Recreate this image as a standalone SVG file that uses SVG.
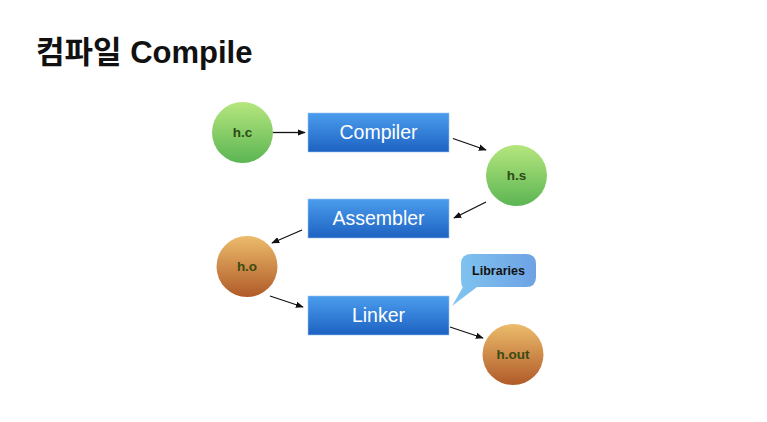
<svg xmlns="http://www.w3.org/2000/svg" width="767" height="422" viewBox="0 0 767 422">
<style>
.title{font-family:"Liberation Sans","Noto Sans CJK KR",sans-serif;font-weight:bold;font-size:31px;fill:#111}
.box{fill:url(#gBox);stroke:#9cc3ee;stroke-width:0.6}
.boxt{font-family:"Liberation Sans",Arial,sans-serif;font-size:19.5px;fill:#fff;text-anchor:middle}
.nt{font-family:"Liberation Sans",Arial,sans-serif;font-size:13.5px;font-weight:bold;text-anchor:middle}
.green{fill:url(#gGreen)}
.orange{fill:url(#gOrange)}
.gt{fill:#2f4a16}
.ot{fill:#3b4a12}
.conn line{stroke:#111;stroke-width:1.3;marker-end:url(#ah)}
</style>
<defs>
<linearGradient id="gGreen" x1="0" y1="0" x2="0" y2="1">
<stop offset="0" stop-color="#b6e67e"/><stop offset="1" stop-color="#5bb553"/>
</linearGradient>
<linearGradient id="gOrange" x1="0" y1="0" x2="0" y2="1">
<stop offset="0" stop-color="#ecbc6c"/><stop offset="1" stop-color="#b05a28"/>
</linearGradient>
<linearGradient id="gBox" x1="0" y1="0" x2="0" y2="1">
<stop offset="0" stop-color="#4b9ded"/><stop offset="1" stop-color="#1d62c2"/>
</linearGradient>
<linearGradient id="gBub" x1="0" y1="0" x2="1" y2="0">
<stop offset="0" stop-color="#80c6f0"/><stop offset="1" stop-color="#6ea2e4"/>
</linearGradient>
<marker id="ah" viewBox="0 0 10 10" refX="9" refY="5" markerWidth="8" markerHeight="8" markerUnits="userSpaceOnUse" orient="auto">
<path d="M0,1 L10,5 L0,9 z" fill="#111"/>
</marker>
</defs>
<rect width="767" height="422" fill="#fff"/>
<text class="title" x="36" y="63">컴파일 Compile</text>
<g class="conn" id="connectors">
<line x1="273" y1="132.5" x2="305" y2="132.5"/>
<line x1="453" y1="138.5" x2="486" y2="150"/>
<line x1="486" y1="202" x2="454" y2="218"/>
<line x1="302" y1="230" x2="272" y2="243"/>
<line x1="270" y1="296" x2="303" y2="307"/>
<line x1="450" y1="327" x2="483" y2="338"/>
</g>
<g id="node-hc"><circle class="green" cx="242.5" cy="132.5" r="30.5"/><text class="nt gt" x="242.5" y="137">h.c</text></g>
<g id="node-compiler"><rect class="box" x="308" y="113" width="141" height="39"/><text class="boxt" x="378.5" y="139">Compiler</text></g>
<g id="node-hs"><circle class="green" cx="516.5" cy="175.5" r="30.5"/><text class="nt gt" x="516.5" y="180">h.s</text></g>
<g id="node-assembler"><rect class="box" x="308" y="199" width="141" height="39"/><text class="boxt" x="378.5" y="225">Assembler</text></g>
<g id="node-ho"><circle class="orange" cx="247" cy="266.5" r="30.5"/><text class="nt ot" x="247" y="271">h.o</text></g>
<g id="node-linker"><rect class="box" x="308" y="296" width="141" height="39"/><text class="boxt" x="378.5" y="322">Linker</text></g>
<g id="node-libraries"><path d="M471,254 H526 Q536,254 536,264 V277 Q536,287 526,287 H477 L452,306 L463,287 Q461,287 461,277 V264 Q461,254 471,254 Z" fill="url(#gBub)"/><text class="nt" x="498.5" y="275" fill="#111" style="font-size:12.5px">Libraries</text></g>
<g id="node-hout"><circle class="orange" cx="513" cy="354.5" r="30.5"/><text class="nt ot" x="513" y="359">h.out</text></g>
</svg>
